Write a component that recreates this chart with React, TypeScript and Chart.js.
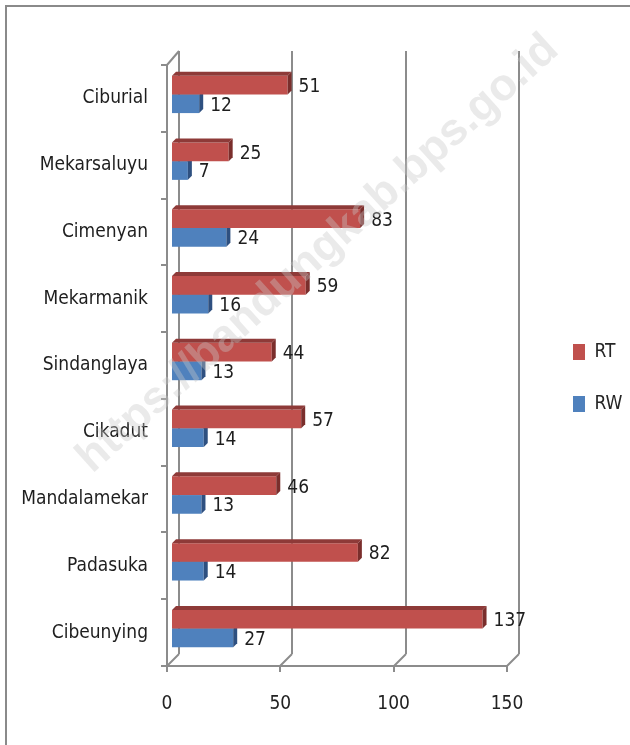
import React, { useEffect, useRef } from "react";
import { Chart, registerables } from "chart.js";

Chart.register(...registerables);

const categories = [
  "Ciburial",
  "Mekarsaluyu",
  "Cimenyan",
  "Mekarmanik",
  "Sindanglaya",
  "Cikadut",
  "Mandalamekar",
  "Padasuka",
  "Cibeunying",
];
const rtValues = [51, 25, 83, 59, 44, 57, 46, 82, 137];
const rwValues = [12, 7, 24, 16, 13, 14, 13, 14, 27];
const seriesNames = ["RT", "RW"];
const xTickValues = [0, 50, 100, 150];
const watermarkText = "https://bandungkab.bps.go.id";

const FONT =
  "'Liberation Sans Narrow', 'DejaVu Sans Condensed', 'Roboto Condensed', 'Liberation Sans', sans-serif";
const FRONT = ["#C0504D", "#4F81BD"];
const TOP = ["#8E3A38", "#3A6294"];
const SIDE = ["#7A2E2C", "#2E5080"];
const GRID = "#8C8C8C";
const DEPTH = 12;
const BAR_D = 4;
const SHIFT_X = 5;
const SHIFT_Y = -4;

const framePlugin = {
  id: "frame3d",
  beforeDraw(chart: any) {
    const ctx = chart.ctx;
    ctx.save();
    ctx.strokeStyle = "#8A8A8A";
    ctx.lineWidth = 2;
    ctx.strokeRect(6, 6, 800, 900);
    ctx.restore();
  },
  beforeDatasetsDraw(chart: any) {
    const { ctx, chartArea, scales } = chart;
    const { left, right, top, bottom } = chartArea;
    const x = scales.x;
    ctx.save();
    ctx.strokeStyle = GRID;
    ctx.lineWidth = 2;
    const line = (x1: number, y1: number, x2: number, y2: number) => {
      ctx.beginPath();
      ctx.moveTo(x1, y1);
      ctx.lineTo(x2, y2);
      ctx.stroke();
    };
    xTickValues.forEach((v) => {
      const px = Math.round(x.getPixelForValue(v));
      line(px + DEPTH, top - DEPTH - 2, px + DEPTH, bottom - DEPTH);
      line(px, bottom, px + DEPTH, bottom - DEPTH);
      line(px, bottom, px, bottom + 6);
    });
    line(left, bottom, right, bottom);
    line(left, top, left, bottom);
    line(left, top, left + DEPTH, top - DEPTH - 2);
    const n = categories.length;
    for (let i = 0; i <= n; i++) {
      const yy = Math.round(top + (i * (bottom - top)) / n);
      line(left - 6, yy, left, yy);
    }
    ctx.restore();
  },
  beforeDatasetDraw(chart: any) {
    chart.ctx.save();
    chart.ctx.translate(SHIFT_X, SHIFT_Y);
  },
  afterDatasetDraw(chart: any, args: any) {
    const ctx = chart.ctx;
    const i = args.index;
    args.meta.data.forEach((el: any) => {
      const p = el.getProps(["x", "y", "base", "height"], true);
      const t = p.y - p.height / 2;
      const b = p.y + p.height / 2;
      const x0 = p.base;
      const x1 = p.x;
      ctx.fillStyle = TOP[i];
      ctx.beginPath();
      ctx.moveTo(x0, t);
      ctx.lineTo(x1, t);
      ctx.lineTo(x1 + BAR_D, t - BAR_D);
      ctx.lineTo(x0 + BAR_D, t - BAR_D);
      ctx.closePath();
      ctx.fill();
      ctx.fillStyle = SIDE[i];
      ctx.beginPath();
      ctx.moveTo(x1, t);
      ctx.lineTo(x1 + BAR_D, t - BAR_D);
      ctx.lineTo(x1 + BAR_D, b - BAR_D);
      ctx.lineTo(x1, b);
      ctx.closePath();
      ctx.fill();
    });
    ctx.restore();
  },
  afterDatasetsDraw(chart: any) {
    const ctx = chart.ctx;
    ctx.save();
    ctx.font = `19px ${FONT}`;
    ctx.fillStyle = "#1E1E1E";
    ctx.textAlign = "left";
    ctx.textBaseline = "middle";
    chart.data.datasets.forEach((ds: any, i: number) => {
      const meta = chart.getDatasetMeta(i);
      meta.data.forEach((el: any, j: number) => {
        const p = el.getProps(["x", "y"], true);
        ctx.fillText(String(ds.data[j]), p.x + SHIFT_X + 11, p.y + SHIFT_Y + 2);
      });
    });
    ctx.restore();
  },
  afterDraw(chart: any) {
    const ctx = chart.ctx;
    ctx.save();
    ctx.translate(318, 254);
    ctx.rotate((-42 * Math.PI) / 180);
    ctx.font = `bold 45px 'Liberation Sans', Arial, sans-serif`;
    ctx.fillStyle = "rgba(200,200,200,0.38)";
    ctx.textAlign = "center";
    ctx.textBaseline = "middle";
    ctx.fillText(watermarkText, 0, 0);
    ctx.restore();
  },
};

export default function App() {
  const ref = useRef<HTMLCanvasElement | null>(null);
  useEffect(() => {
    document.body.style.margin = "0";
    const canvas = ref.current;
    if (!canvas) return;
    const chart = new Chart(canvas, {
      type: "bar",
      data: {
        labels: categories,
        datasets: [
          {
            label: seriesNames[0],
            data: rtValues,
            backgroundColor: FRONT[0],
            borderWidth: 0,
            categoryPercentage: 0.56,
            barPercentage: 1,
            clip: false,
          } as any,
          {
            label: seriesNames[1],
            data: rwValues,
            backgroundColor: FRONT[1],
            borderWidth: 0,
            categoryPercentage: 0.56,
            barPercentage: 1,
            clip: false,
          } as any,
        ],
      },
      options: {
        indexAxis: "y",
        responsive: false,
        animation: false,
        layout: { padding: { left: 8, top: 11, right: 0, bottom: 0 } },
        scales: {
          x: {
            type: "linear",
            min: 0,
            max: 150,
            ticks: {
              stepSize: 50,
              font: { family: FONT, size: 19 },
              color: "#222222",
              padding: 27,
            },
            grid: { display: false, drawTicks: false },
            border: { display: false },
            afterFit: (s: any) => {
              s.height = 79;
            },
          },
          y: {
            ticks: { font: { family: FONT, size: 19 }, color: "#1E1E1E", padding: 19 },
            grid: { display: false, drawTicks: false },
            border: { display: false },
            afterFit: (s: any) => {
              s.width = 159;
            },
          },
          y2: {
            type: "linear",
            position: "right",
            display: true,
            ticks: { display: false },
            grid: { display: false, drawTicks: false },
            border: { display: false },
            afterFit: (s: any) => {
              s.width = 33;
            },
          },
        } as any,
        plugins: {
          title: {
            display: true,
            text: "",
            font: { size: 10 },
            padding: { top: 0, bottom: 42 },
          },
          legend: {
            position: "right",
            maxWidth: 90,
            labels: {
              boxWidth: 12,
              boxHeight: 16,
              padding: 33,
              color: "#262626",
              font: { family: FONT, size: 19 },
            },
          } as any,
          tooltip: { enabled: false },
        },
      },
      plugins: [framePlugin],
    });
    return () => chart.destroy();
  }, []);
  return (
    <canvas ref={ref} width={630} height={745} style={{ display: "block" }} />
  );
}
